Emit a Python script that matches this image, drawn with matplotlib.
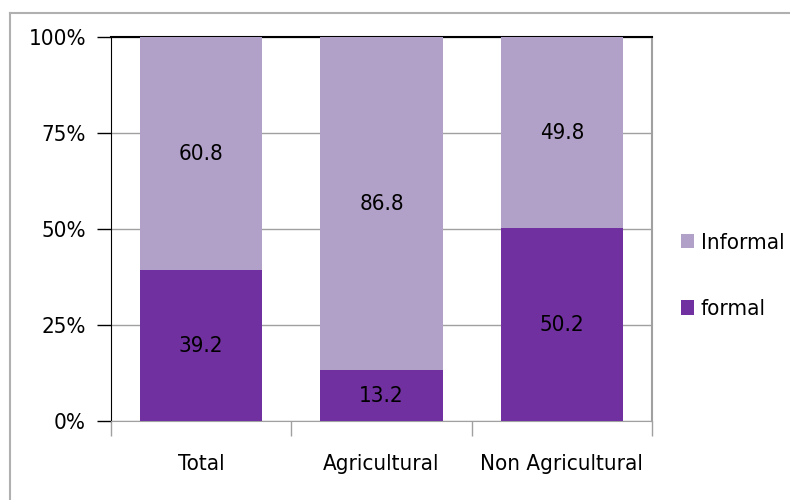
import numpy as np
import matplotlib.pyplot as plt
from matplotlib.lines import Line2D
from matplotlib.ticker import FixedLocator

categories = ["Total", "Agricultural", "Non Agricultural"]
formal = [39.2, 13.2, 50.2]
informal = [60.8, 86.8, 49.8]
y_ticks = [0, 25, 50, 75, 100]
y_labels = ["0%", "25%", "50%", "75%", "100%"]

c_formal = "#7030A0"
c_informal = "#B1A0C7"

plt.rcParams['font.family'] = ['DejaVu Sans']
plt.rcParams['font.stretch'] = 'condensed'

fig = plt.figure(figsize=(7.9, 5.0), dpi=100)
ax = fig.add_axes([111 / 790, 1 - 421 / 500, (652 - 111) / 790, (421 - 37) / 500])

x = np.arange(len(categories))
ax.bar(x, formal, width=0.68, color=c_formal, label="formal", zorder=3)
ax.bar(x, informal, width=0.68, bottom=formal, color=c_informal, label="Informal", zorder=3)

for i in range(len(categories)):
    ax.text(x[i], formal[i] / 2, f"{formal[i]:.1f}", ha="center", va="center", fontsize=16, zorder=4)
    ax.text(x[i], formal[i] + informal[i] / 2, f"{informal[i]:.1f}", ha="center", va="center",
            fontsize=16, zorder=4)

ax.set_xlim(-0.5, 2.5)
ax.set_ylim(0, 100)
ax.set_yticks(y_ticks)
ax.set_yticklabels(y_labels, fontsize=16)
ax.yaxis.grid(True, color="#A0A0A0", linewidth=1, zorder=0)
ax.tick_params(axis="y", length=10, width=1, color="black", pad=8)

ax.set_xticks(x)
ax.set_xticklabels(categories, fontsize=16)
ax.tick_params(axis="x", length=0, pad=24)
ax.xaxis.set_minor_locator(FixedLocator([-0.5, 0.5, 1.5, 2.5]))
ax.tick_params(axis="x", which="minor", length=11, width=1, color="#A0A0A0")

ax.spines["left"].set_color("black")
ax.spines["top"].set_color("black")
ax.spines["top"].set_linewidth(1.5)
ax.spines["right"].set_color("#A0A0A0")
ax.spines["right"].set_linewidth(1.5)
ax.spines["bottom"].set_color("#A0A0A0")

handles, labels = ax.get_legend_handles_labels()
fig.legend(handles[::-1], labels[::-1], loc="center left", bbox_to_anchor=(674 / 790, 1 - 276 / 500),
           frameon=False, fontsize=16, handlelength=0.6, handleheight=0.6, handletextpad=0.3,
           labelspacing=2.1, borderaxespad=0, borderpad=0.3)

fig.add_artist(Line2D([10 / 790, 10 / 790], [0, 1 - 13 / 500], color="#B0B0B0", linewidth=1.5))
fig.add_artist(Line2D([10 / 790, 1], [1 - 13 / 500, 1 - 13 / 500], color="#B0B0B0", linewidth=1.5))

fig.savefig("out.png", dpi=100)
